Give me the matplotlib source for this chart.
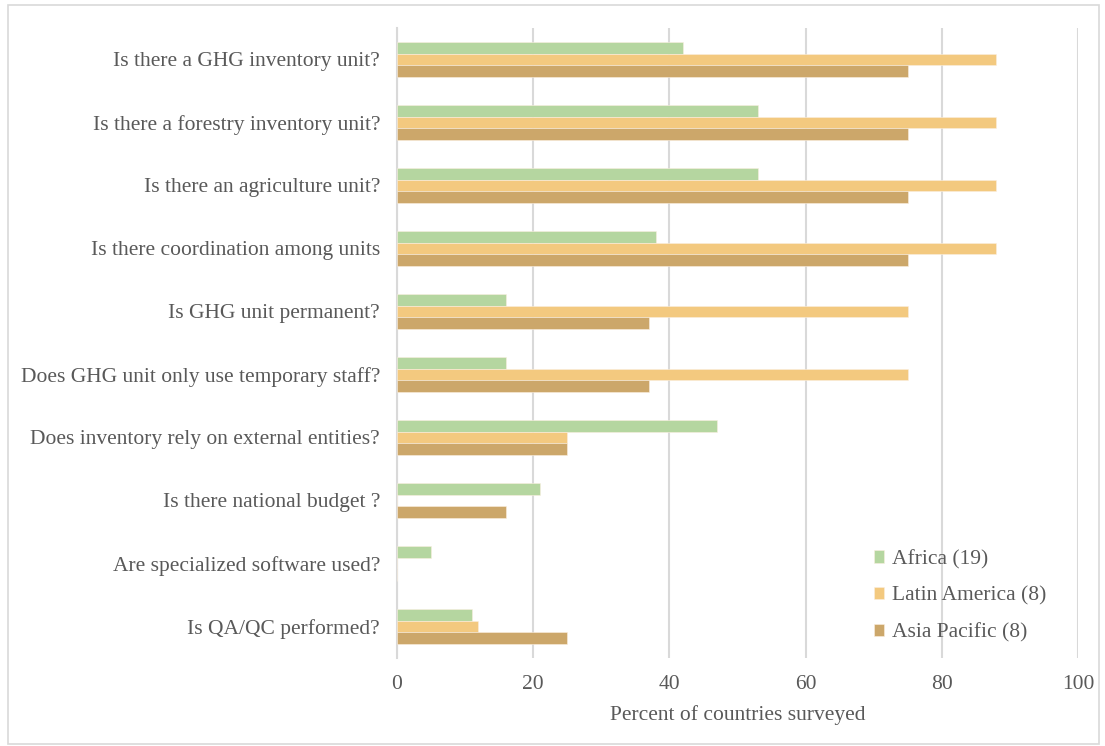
import numpy as np
import matplotlib.pyplot as plt
from matplotlib.patches import Rectangle

questions = [
    "Is there a GHG inventory unit?",
    "Is there a forestry inventory unit?",
    "Is there an agriculture unit?",
    "Is there coordination among units",
    "Is GHG unit permanent?",
    "Does GHG unit only use temporary staff?",
    "Does inventory rely on external entities?",
    "Is there national budget ?",
    "Are specialized software used?",
    "Is QA/QC performed?",
]
africa = [42, 53, 53, 38, 16, 16, 47, 21, 5, 11]
latin_america = [88, 88, 88, 88, 75, 75, 25, 0, 0, 12]
asia_pacific = [75, 75, 75, 75, 37, 37, 25, 16, 0, 25]

series = [
    ("Africa (19)", africa, "#b5d6a0"),
    ("Latin America (8)", latin_america, "#f3c97f"),
    ("Asia Pacific (8)", asia_pacific, "#cca76a"),
]

plt.rcParams['font.family'] = ['Liberation Serif', 'DejaVu Serif']
txt = "#595959"
fs = 15.5

fig = plt.figure(figsize=(11.05, 7.46), dpi=100)
ax = fig.add_axes([0.359, 0.118, 0.6166, 0.8445])

y = np.arange(len(questions))
h = 0.185
for i, (name, vals, col) in enumerate(series):
    ax.barh(y + (i - 1) * h, vals, height=h, color=col, label=name,
            edgecolor="#fbefe0", linewidth=0.4, zorder=3)

ax.set_ylim(len(questions) - 0.5, -0.5)
ax.set_xlim(0, 100)
ax.set_xticks(range(0, 101, 20))
ax.set_yticks(y)
ax.set_yticklabels(questions, fontsize=fs, color=txt)
ax.tick_params(axis="x", labelsize=fs, colors=txt, length=0, pad=12)
ax.tick_params(axis="y", length=0, pad=12)
ax.grid(axis="x", color="#d9d9d9", linewidth=1.5, zorder=0)
for s in ["top", "right", "bottom"]:
    ax.spines[s].set_visible(False)
ax.spines["left"].set_color("#d9d9d9")
ax.spines["left"].set_linewidth(1.5)
ax.set_xlabel("Percent of countries surveyed", fontsize=fs, color=txt, labelpad=8)

leg = ax.legend(loc="lower right", bbox_to_anchor=(0.982, -0.006), frameon=False,
                fontsize=fs, handlelength=0.5, handleheight=0.5,
                handletextpad=0.35, labelspacing=0.8, labelcolor=txt)

fig.patches.append(Rectangle((0.007, 0.003), 0.988, 0.99, transform=fig.transFigure,
                             fill=False, edgecolor="#d9d9d9", linewidth=1.2))

fig.savefig("out.png", dpi=100)
